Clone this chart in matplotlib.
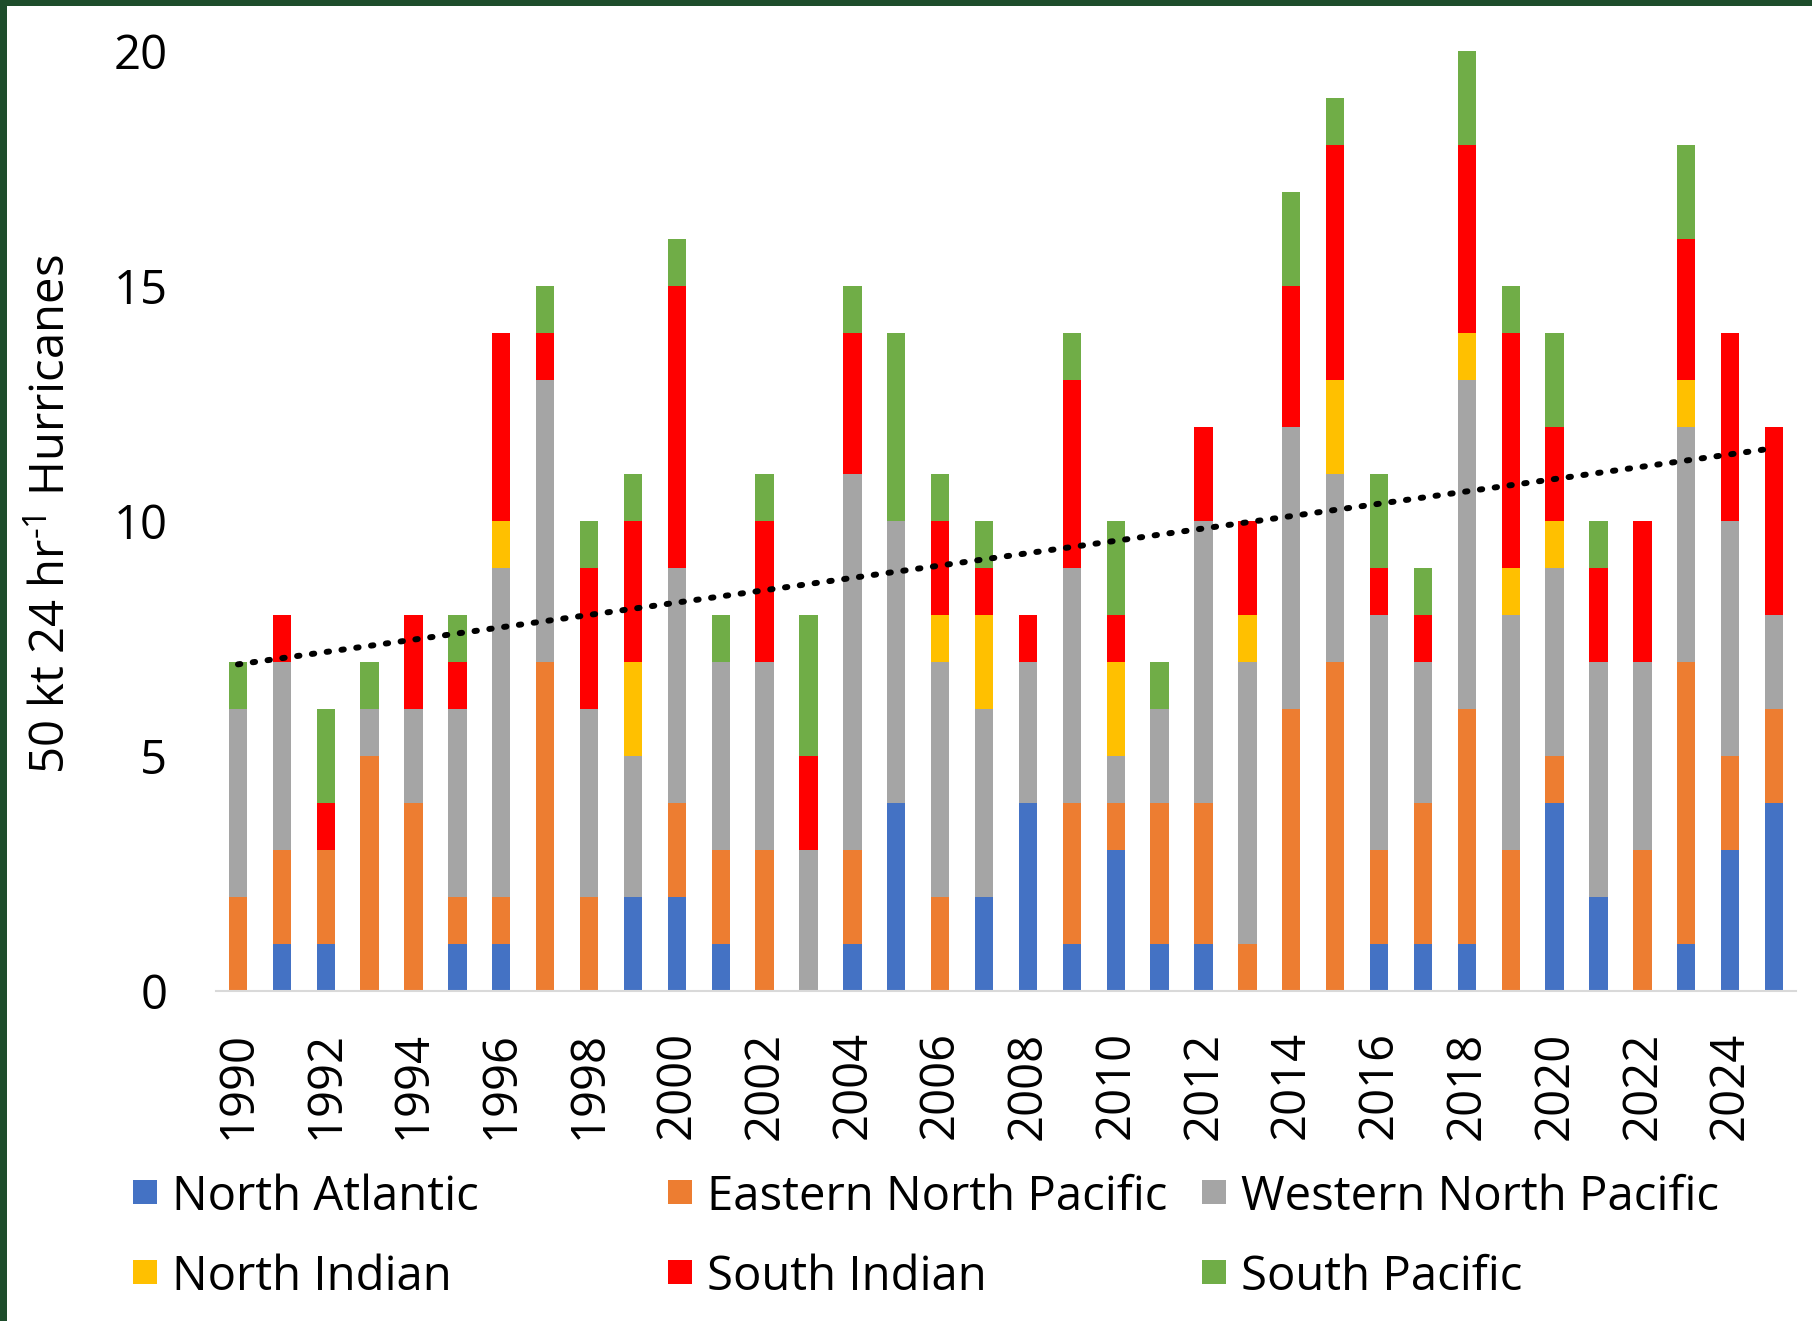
import numpy as np
import matplotlib
matplotlib.use("Agg")
from matplotlib import pyplot as plt
from matplotlib.patches import Rectangle

plt.rcParams['font.family'] = ['Open Sans', 'DejaVu Sans']
plt.rcParams['mathtext.fontset'] = 'custom'
plt.rcParams['mathtext.rm'] = 'Open Sans'

years = list(range(1990, 2026))

# yearly counts per basin
north_atlantic = [0, 1, 1, 0, 0, 1, 1, 0, 0, 2, 2, 1, 0, 0, 1, 4, 0, 2, 4, 1, 3, 1, 1, 0, 0, 0, 1, 1, 1, 0, 4, 2, 0, 1, 3, 4]
east_n_pacific = [2, 2, 2, 5, 4, 1, 1, 7, 2, 0, 2, 2, 3, 0, 2, 0, 2, 0, 0, 3, 1, 3, 3, 1, 6, 7, 2, 3, 5, 3, 1, 0, 3, 6, 2, 2]
west_n_pacific = [4, 4, 0, 1, 2, 4, 7, 6, 4, 3, 5, 4, 4, 3, 8, 6, 5, 4, 3, 5, 1, 2, 6, 6, 6, 4, 5, 3, 7, 5, 4, 5, 4, 5, 5, 2]
north_indian = [0, 0, 0, 0, 0, 0, 1, 0, 0, 2, 0, 0, 0, 0, 0, 0, 1, 2, 0, 0, 2, 0, 0, 1, 0, 2, 0, 0, 1, 1, 1, 0, 0, 1, 0, 0]
south_indian = [0, 1, 1, 0, 2, 1, 4, 1, 3, 3, 6, 0, 3, 2, 3, 0, 2, 1, 1, 4, 1, 0, 2, 2, 3, 5, 1, 1, 4, 5, 2, 2, 3, 3, 4, 4]
south_pacific = [1, 0, 2, 1, 0, 1, 0, 1, 1, 1, 1, 1, 1, 3, 1, 4, 1, 1, 0, 1, 2, 1, 0, 0, 2, 1, 2, 1, 2, 1, 2, 1, 0, 2, 0, 0]

basin_names = ['North Atlantic', 'Eastern North Pacific', 'Western North Pacific',
               'North Indian', 'South Indian', 'South Pacific']
basin_colors = ['#4472C4', '#ED7D31', '#A5A5A5', '#FFC000', '#FF0000', '#70AD47']

# dotted trend line, value at first and last year
trend_years = [1990, 2025]
trend_values = [6.95, 11.55]

series = [north_atlantic, east_n_pacific, west_n_pacific,
          north_indian, south_indian, south_pacific]

W, H = 1812, 1321
fig = plt.figure(figsize=(W / 100, H / 100), dpi=100)
ax = fig.add_axes([216 / W, 1 - 991 / H, 1580 / W, (991 - 51) / H])

x = np.arange(len(years))
bottom = np.zeros(len(years))
for vals, name, col in zip(series, basin_names, basin_colors):
    vals = np.array(vals, dtype=float)
    ax.bar(x, vals, width=0.42, bottom=bottom, color=col, label=name, zorder=2)
    bottom += vals

tx = [years.index(y) for y in trend_years]
ax.plot(tx, trend_values, color='black', lw=4.3, linestyle=(0, (0.4, 2.1)),
        dash_capstyle='round', zorder=3)

ax.set_xlim(-0.5, len(years) - 0.5)
ax.set_ylim(0, 20)
ax.set_yticks([0, 5, 10, 15, 20])
ax.set_xticks(x[::2])
ax.set_xticklabels([str(y) for y in years[::2]], rotation=90, va='top', ha='center')
ax.tick_params(axis='both', length=0, labelsize=34, colors='black')
ax.tick_params(axis='y', pad=35)
ax.tick_params(axis='x', pad=29)

for s in ['top', 'right', 'left']:
    ax.spines[s].set_visible(False)
ax.spines['bottom'].set_color('#D9D9D9')
ax.spines['bottom'].set_linewidth(1.5)

ax.set_ylabel(r'50 kt 24 hr$^{\text{-1}}$ Hurricanes', fontsize=34, va='center')
ax.yaxis.set_label_coords((52 - 216) / 1580, 0.507)

# legend laid out in two rows of three
col_x = [133, 668, 1202]
row_y = [1192, 1272]
box = 24
for i, (name, col) in enumerate(zip(basin_names, basin_colors)):
    r, c = divmod(i, 3)
    cx, cy = col_x[c], row_y[r]
    fig.patches.append(Rectangle((cx / W, 1 - (cy + box / 2) / H), box / W, box / H,
                                 transform=fig.transFigure, facecolor=col,
                                 edgecolor='none'))
    fig.text((cx + box + 15) / W, 1 - cy / H, name, fontsize=34,
             va='center_baseline', ha='left')

# dark frame along top and left edges
frame = '#1E4D2B'
fig.patches.append(Rectangle((0, 1 - 6 / H), 1, 6 / H, transform=fig.transFigure,
                             facecolor=frame, edgecolor='none'))
fig.patches.append(Rectangle((0, 0), 7 / W, 1, transform=fig.transFigure,
                             facecolor=frame, edgecolor='none'))

fig.savefig('out.png', dpi=100)
